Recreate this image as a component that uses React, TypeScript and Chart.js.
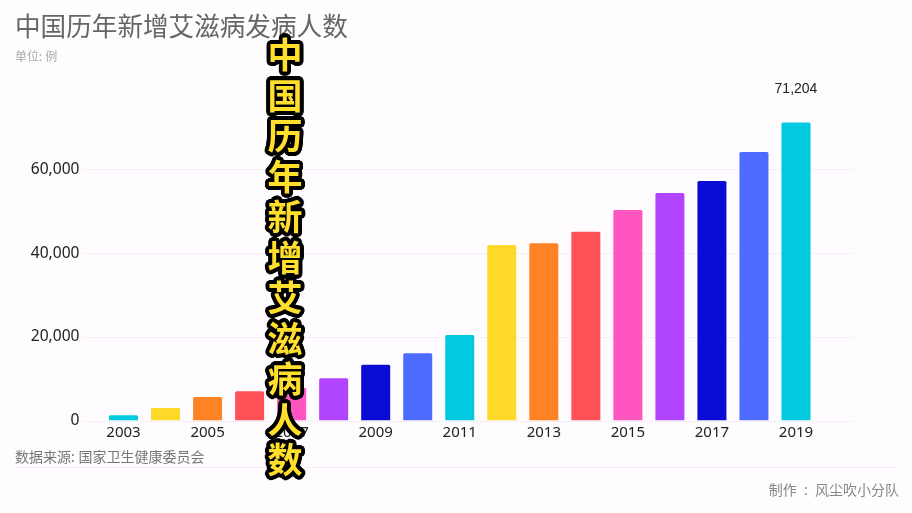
import { useEffect, useRef } from 'react';
import Chart from 'chart.js/auto';
import type { Plugin } from 'chart.js';

const years = ['2003', '2004', '2005', '2006', '2007', '2008', '2009', '2010', '2011', '2012', '2013', '2014', '2015', '2016', '2017', '2018', '2019'];
const cases = [1240, 2990, 5620, 6980, 7840, 10080, 13330, 16050, 20430, 41930, 42340, 45110, 50300, 54360, 57230, 64160, 71204];
const palette = ['#00c9e0', '#ffd92a', '#ff8225', '#ff5258', '#ff55c0', '#b145ff', '#0a0cd4', '#4d6bff'];
const overlayChars = ['中', '国', '历', '年', '新', '增', '艾', '滋', '病', '人', '数'];

const cjkFont = '"Noto Sans", "Noto Sans CJK SC", sans-serif';

// round black outline for the caption, -webkit-text-stroke gives hard corners
const outline = Array.from({ length: 24 }, (_, i) => {
  const a = (i / 24) * Math.PI * 2;
  return `${(Math.cos(a) * 3.8).toFixed(2)}px ${(Math.sin(a) * 3.8).toFixed(2)}px 0 #000`;
}).join(', ');

// grid lines run wider than the plot area in the reference
const wideGrid: Plugin<'bar'> = {
  id: 'wideGrid',
  beforeDatasetsDraw(chart) {
    const { ctx } = chart;
    const yScale = chart.scales.y;
    ctx.save();
    ctx.strokeStyle = '#f5eff5';
    ctx.lineWidth = 1;
    yScale.ticks.forEach((t) => {
      const y = Math.round(yScale.getPixelForValue(t.value)) + 0.5;
      ctx.beginPath();
      ctx.moveTo(83, y);
      ctx.lineTo(853, y);
      ctx.stroke();
    });
    ctx.restore();
  },
};

const lastLabel: Plugin<'bar'> = {
  id: 'lastLabel',
  afterDatasetsDraw(chart) {
    const { ctx } = chart;
    const bars = chart.getDatasetMeta(0).data;
    const i = bars.length - 1;
    ctx.save();
    ctx.font = '14px "Liberation Sans", Arial, sans-serif';
    ctx.fillStyle = '#222222';
    ctx.textAlign = 'center';
    ctx.textBaseline = 'middle';
    ctx.fillText(cases[i].toLocaleString('en-US'), bars[i].x, bars[i].y - 33);
    ctx.restore();
  },
};

const App = () => {
  const canvasRef = useRef<HTMLCanvasElement>(null);

  useEffect(() => {
    document.body.style.margin = '0';
    if (!canvasRef.current) {
      return;
    }

    const chart = new Chart(canvasRef.current, {
      type: 'bar',
      data: {
        labels: years,
        datasets: [
          {
            data: cases,
            backgroundColor: years.map((_, i) => palette[i % palette.length]),
            barPercentage: 0.69,
            categoryPercentage: 1,
            borderRadius: 1.5,
          },
        ],
      },
      options: {
        animation: false,
        responsive: false,
        layout: { padding: { left: 15, right: 95, top: 0, bottom: 0 } },
        plugins: {
          legend: { display: false },
          tooltip: { enabled: false },
          title: {
            display: true,
            text: '中国历年新增艾滋病发病人数',
            align: 'start',
            color: '#666666',
            font: { family: cjkFont, size: 25.6, weight: 'normal' },
            padding: { top: 13, bottom: 0 },
          },
          subtitle: {
            display: true,
            text: '单位: 例',
            align: 'start',
            color: '#aaaaaa',
            font: { family: cjkFont, size: 12, weight: 'normal' },
            padding: { top: 7, bottom: 20.6 },
          },
        },
        scales: {
          x: {
            afterFit: (scale) => {
              scale.height = 92.5;
            },
            grid: { display: false, drawTicks: false },
            border: { display: false },
            ticks: {
              autoSkip: false,
              maxRotation: 0,
              padding: 3,
              color: '#222222',
              font: { family: cjkFont, size: 15 },
              callback: (_, i) => (i % 2 === 0 ? years[i] : ''),
            },
          },
          y: {
            min: 0,
            max: 80000,
            afterFit: (scale) => {
              scale.width = 87.5;
            },
            afterBuildTicks: (scale) => {
              scale.ticks = scale.ticks.filter((t) => t.value <= 60000);
            },
            grid: { display: false, drawTicks: false },
            border: { display: false },
            ticks: {
              stepSize: 20000,
              padding: 23,
              color: '#222222',
              font: { family: cjkFont, size: 15.6 },
              callback: (v) => Number(v).toLocaleString('en-US'),
            },
          },
        },
      },
      plugins: [wideGrid, lastLabel],
    });

    return () => {
      chart.destroy();
    };
  }, []);

  return (
    <div style={{ position: 'relative', width: 912, height: 513, background: '#fefcfe', overflow: 'hidden', fontFamily: cjkFont }}>
      <canvas ref={canvasRef} width={912} height={513} style={{ position: 'absolute', left: 0, top: 0 }} />
      <div style={{ position: 'absolute', left: 15, top: 447, fontSize: 14, lineHeight: '20px', color: '#777777' }}>数据来源: 国家卫生健康委员会</div>
      <div style={{ position: 'absolute', left: 15, right: 13, top: 467, height: 1, background: '#f5eff5' }} />
      <div style={{ position: 'absolute', right: 13, top: 480, fontSize: 14, lineHeight: '20px', color: '#888888', whiteSpace: 'pre' }}>制作  :  风尘吹小分队</div>
      <div style={{ position: 'absolute', left: 255, width: 60, top: 33 }}>
        {overlayChars.map((c, i) => (
          <div
            key={i}
            style={{
              height: 40.5,
              lineHeight: '40.5px',
              textAlign: 'center',
              fontFamily: '"Noto Sans CJK SC", sans-serif',
              fontSize: 35,
              fontWeight: 700,
              color: '#ffdf2b',
              textShadow: outline,
            }}
          >
            {c}
          </div>
        ))}
      </div>
    </div>
  );
};

export default App;
